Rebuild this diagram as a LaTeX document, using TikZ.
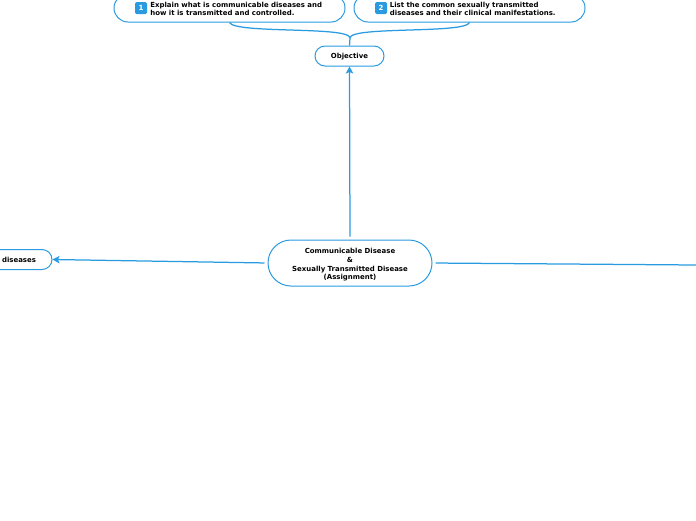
\documentclass[tikz,border=0pt]{standalone}
\usepackage{fontspec}
\setmainfont{DejaVu Sans}
\usetikzlibrary{arrows.meta, positioning, shapes.misc}
\definecolor{mapblue}{HTML}{2A9BE0}
\tikzset{
  topic/.style={draw=mapblue, line width=1pt, fill=white, rounded rectangle, align=center, font=\fontsize{6.95}{8.7}\selectfont\bfseries, text=black, inner sep=0pt},
  badge/.style={fill=mapblue, rounded corners=1.5pt, minimum size=12pt, inner sep=0pt, text=white, font=\fontsize{7}{8}\selectfont\bfseries},
  note/.style={font=\fontsize{6.95}{8.2}\selectfont\bfseries, align=left, inner sep=0pt, text=black},
  link/.style={draw=mapblue, line width=1.25pt},
  linkto/.style={link, -{Stealth[length=7pt,width=7.5pt,inset=1.5pt]}},
}
\begin{document}
\begin{tikzpicture}[x=1pt,y=-1pt]
  \useasboundingbox (0,0) rectangle (696,520);
  \clip (0,0) rectangle (696,520);
  \node[topic, minimum width=164pt, minimum height=46pt] (central) at (350,263) {\rule{0pt}{9pt}Communicable Disease\\\&\\Sexually Transmitted Disease\\(Assignment)};
  \node[topic, minimum width=69pt, minimum height=20pt, text depth=0pt, text height=4pt] (objective) at (349.5,56) {Objective};
  \node[topic, minimum width=231pt, minimum height=28pt] (explain) at (229.5,8) {};
  \node[topic, minimum width=231pt, minimum height=28pt] (list) at (469.5,8) {};
  \node[topic, minimum width=66pt, minimum height=20pt] (diseases) at (19,259.5) {diseases};
  \node[badge] (one) at (141,8) {1};
  \node[badge] (two) at (381,8) {2};
  \node[note, right=3pt of one, yshift=-0.8pt] (explaintext) {Explain what is communicable diseases and\\how it is transmitted and controlled.};
  \node[note, right=3pt of two, yshift=-0.8pt, xshift=-0.5pt] (listtext) {List the common sexually transmitted\\diseases and their clinical manifestations.};
  \coordinate (offright) at (696,265);
  \draw[link] (explain.south) .. controls (235,34) and (350,26) .. (350,38) -- (objective.north);
  \draw[link] (list.south) .. controls (465,34) and (350,26) .. (350,38);
  \draw[linkto, shorten <=3pt] (central.north) -- (objective.south);
  \draw[linkto, shorten <=3pt] (central.west) -- (diseases.east);
  \draw[link, shorten <=3pt] (central.east) -- (offright);
\end{tikzpicture}
\end{document}
